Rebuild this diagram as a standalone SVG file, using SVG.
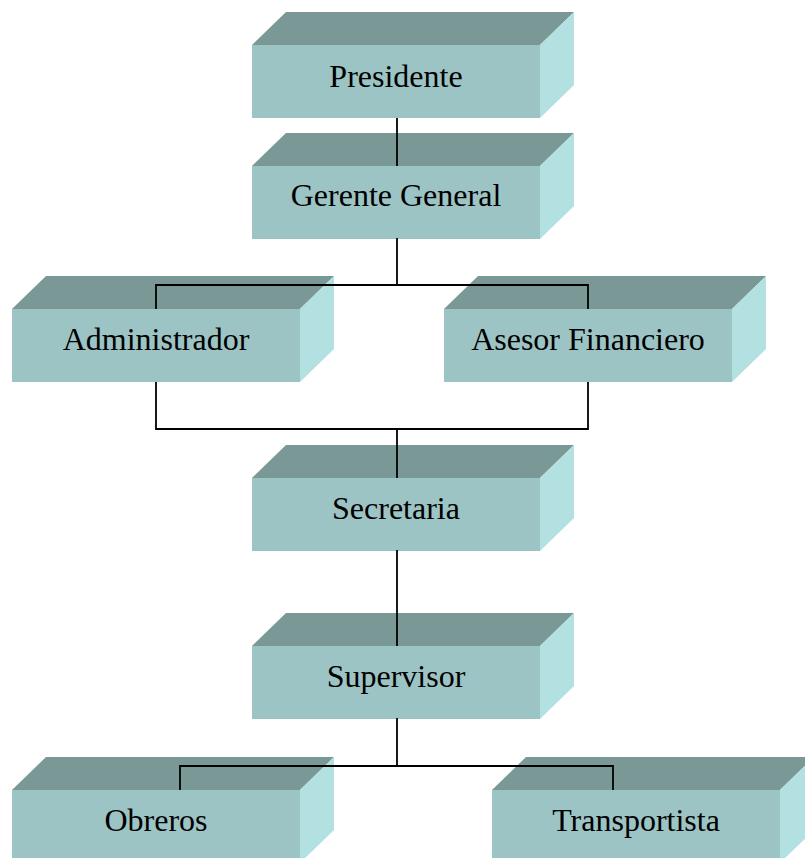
<svg xmlns="http://www.w3.org/2000/svg" width="805" height="858" viewBox="0 0 805 858">
<style>
.front{fill:#9dc4c4}
.top{fill:#7a9996}
.side{fill:#b3e0e0}
.lbl{font-family:"Liberation Serif","Times New Roman",serif;font-size:32px;fill:#000;text-anchor:middle}
.conn{fill:none;stroke:#000;stroke-width:1.8}
</style>
<defs>
<g id="box">
<polygon class="top" points="0,0 34,-33 322,-33 288,0"/>
<polygon class="side" points="288,0 322,-33 322,40 288,73"/>
<rect class="front" x="0" y="0" width="288" height="73"/>
</g>
</defs>
<g id="presidente"><use href="#box" x="252" y="45"/><text class="lbl" x="396" y="87">Presidente</text></g>
<g id="gerente"><use href="#box" x="252" y="166"/><text class="lbl" x="396" y="206">Gerente General</text></g>
<g id="administrador"><use href="#box" x="12" y="309"/><text class="lbl" x="156" y="350">Administrador</text></g>
<g id="asesor"><use href="#box" x="444" y="309"/><text class="lbl" x="588" y="350">Asesor Financiero</text></g>
<g id="secretaria"><use href="#box" x="252" y="478"/><text class="lbl" x="396" y="519">Secretaria</text></g>
<g id="supervisor"><use href="#box" x="252" y="646"/><text class="lbl" x="396" y="687">Supervisor</text></g>
<g id="obreros"><use href="#box" x="12" y="790"/><text class="lbl" x="156" y="831">Obreros</text></g>
<g id="transportista"><use href="#box" x="492" y="790"/><text class="lbl" x="636" y="831">Transportista</text></g>
<g id="connectors" class="conn">
<path d="M397 118 V166"/>
<path d="M397 238 V285"/>
<path d="M156 309 V285 H588 V309"/>
<path d="M156 382 V429 H588 V382"/>
<path d="M397 429 V478"/>
<path d="M397 550 V646"/>
<path d="M397 718 V766"/>
<path d="M180 790 V766 H613 V790"/>
</g>
</svg>
